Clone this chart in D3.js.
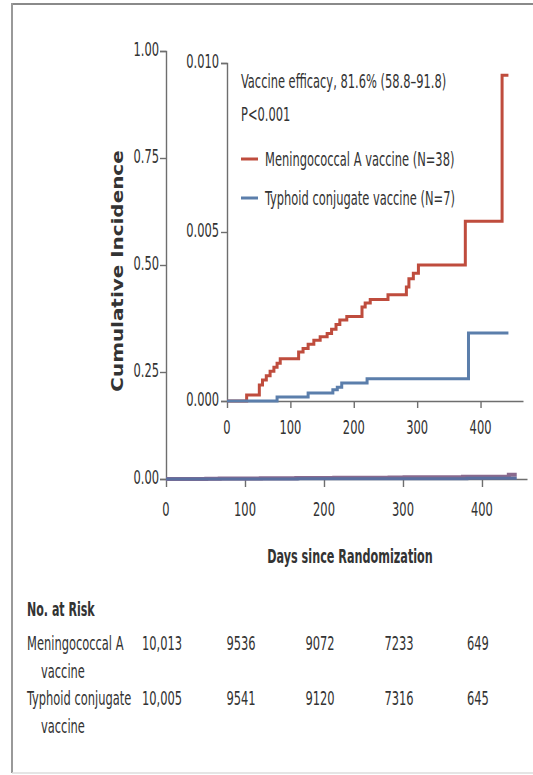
<!DOCTYPE html>
<html><head><meta charset="utf-8">
<script src="https://cdnjs.cloudflare.com/ajax/libs/d3/7.8.5/d3.min.js"></script>
<style>html,body{margin:0;padding:0;background:#fff;}svg{display:block;}</style>
</head><body>
<script>
// ---------- data ----------
const redDays = [0, 31, 51, 56, 62, 68, 74, 79, 84, 113, 120, 128, 137, 147, 158, 165, 172, 178, 189, 213, 218, 226, 254, 283, 287, 294, 302, 376, 434, 444];
const redInc  = [0, .00018, .00047, .00062, .00075, .00088, .00100, .00112, .00125, .00145, .00155, .00168, .00180, .00190, .00200, .00212, .00226, .00240, .00250, .00278, .00290, .00300, .00314, .00337, .00362, .00378, .00402, .00532, .00964, .00964];
const blueDays = [0, 79, 128, 167, 174, 181, 221, 381, 444];
const blueInc  = [0, .00012, .00024, .00033, .00041, .00053, .00066, .00201, .00201];
const outerYTicks = [0, 0.25, 0.5, 0.75, 1.0];
const innerYTicks = [0, 0.005, 0.010];
const xTicks = [0, 100, 200, 300, 400];
const seriesNames = ["Meningococcal A vaccine (N=38)", "Typhoid conjugate vaccine (N=7)"];
const riskLabels = [["Meningococcal A", "vaccine"], ["Typhoid conjugate", "vaccine"]];
const riskMen = ["10,013", "9536", "9072", "7233", "649"];
const riskTyp = ["10,005", "9541", "9120", "7316", "645"];
const annot = ["Vaccine efficacy, 81.6% (58.8\u201391.8)", "P<0.001"];

// ---------- setup ----------
const W = 533, H = 775, SY = 1.28, SX = 0.85;
const RED = "#bf4c3d", BLUE = "#5b7eab", AX = "#6e6e6e", TXT = "#333";
const NARROW = "'Liberation Sans Narrow','DejaVu Sans Condensed','Arial Narrow',sans-serif";
const svg = d3.select("body").append("svg").attr("width", W).attr("height", H);

function txt(x, y, s, o = {}) {
  return svg.append("text")
    .attr("transform", `translate(${x},${y}) scale(${o.sx || SX},${o.sy || SY})`)
    .attr("text-anchor", o.anchor || "start")
    .attr("font-family", o.family || NARROW)
    .attr("font-size", o.size || 15)
    .attr("font-weight", o.weight || "normal")
    .attr("fill", o.fill || TXT)
    .text(s);
}

// frame
svg.append("line").attr("x1", 12).attr("x2", W).attr("y1", 4).attr("y2", 4).attr("stroke", "#8a8a8a").attr("stroke-width", 2);
svg.append("line").attr("x1", 12).attr("x2", 12).attr("y1", 3).attr("y2", 773).attr("stroke", "#999").attr("stroke-width", 2);
svg.append("line").attr("x1", 12).attr("x2", W).attr("y1", 773).attr("y2", 773).attr("stroke", "#ddd").attr("stroke-width", 1.5);

// ---------- outer chart ----------
const xO = d3.scaleLinear().domain([0, 457]).range([166, 527]);
const yO = d3.scaleLinear().domain([0, 1]).range([479, 51]);

const gxO = svg.append("g").attr("transform", `translate(0,${yO(0)})`)
  .call(d3.axisBottom(xO).tickValues(xTicks).tickSize(8).tickSizeOuter(0).tickFormat(""));
const gyO = svg.append("g").attr("transform", `translate(${xO(0)},0)`)
  .call(d3.axisLeft(yO).tickValues(outerYTicks).tickSize(6).tickSizeOuter(6).tickFormat(""));
[gxO, gyO].forEach(g => { g.selectAll("path,line").attr("stroke", AX).attr("stroke-width", 1.4); });

xTicks.forEach(t => txt(xO(t), 516, String(t), { anchor: "middle" }));
outerYTicks.forEach(t => txt(xO(0) - 7, yO(t) + 5, d3.format(".2f")(t), { anchor: "end" }));

const lineO = (days, inc) => d3.line().curve(d3.curveStepAfter)
  .x((d, i) => xO(days[i])).y((d, i) => yO(inc[i]))(days);
svg.append("path").attr("d", lineO(redDays, redInc)).attr("fill", "none").attr("stroke", "#8a6a8e").attr("stroke-width", 4);
svg.append("path").attr("d", lineO(blueDays, blueInc)).attr("fill", "none").attr("stroke", "#5a6fa0").attr("stroke-width", 3);

// axis titles
txt(350, 563, "Days since Randomization", { anchor: "middle", weight: "bold", size: 16, sx: 0.78, sy: 1.2 });
svg.append("text")
  .attr("transform", `translate(123,${(yO(0) + yO(1)) / 2 + 6}) rotate(-90) scale(1.33,1)`)
  .attr("text-anchor", "middle").attr("font-family", "'DejaVu Sans',Verdana,sans-serif")
  .attr("font-weight", "bold").attr("font-size", 15).attr("fill", TXT)
  .text("Cumulative Incidence");

// ---------- inset ----------
const xI = d3.scaleLinear().domain([0, 467]).range([227, 523]);
const yI = d3.scaleLinear().domain([0, 0.010]).range([401, 63]);

const gxI = svg.append("g").attr("transform", `translate(0,${yI(0)})`)
  .call(d3.axisBottom(xI).tickValues(xTicks).tickSize(7).tickSizeOuter(0).tickFormat(""));
const gyI = svg.append("g").attr("transform", `translate(${xI(0)},0)`)
  .call(d3.axisLeft(yI).tickValues(innerYTicks).tickSize(6).tickSizeOuter(6).tickFormat(""));
[gxI, gyI].forEach(g => { g.selectAll("path,line").attr("stroke", AX).attr("stroke-width", 1.4); });

xTicks.forEach(t => txt(xI(t), 434, String(t), { anchor: "middle" }));
innerYTicks.forEach(t => txt(xI(0) - 8, yI(t) + 5, d3.format(".3f")(t), { anchor: "end" }));

const lineI = (days, inc) => d3.line().curve(d3.curveStepAfter)
  .x((d, i) => xI(days[i])).y((d, i) => yI(inc[i]))(days);
svg.append("path").attr("d", lineI(redDays, redInc)).attr("fill", "none").attr("stroke", RED).attr("stroke-width", 3);
svg.append("path").attr("d", lineI(blueDays, blueInc)).attr("fill", "none").attr("stroke", BLUE).attr("stroke-width", 3);

// annotation + legend
txt(241, 88, annot[0]);
txt(241, 121, annot[1]);
const legColors = [RED, BLUE], legY = [166, 205];
seriesNames.forEach((s, i) => {
  svg.append("line").attr("x1", 241).attr("x2", 258).attr("y1", legY[i] - 7).attr("y2", legY[i] - 7)
    .attr("stroke", legColors[i]).attr("stroke-width", 3);
  txt(265, legY[i], s);
});

// ---------- risk table ----------
txt(27, 616, "No. at Risk", { weight: "bold", sx: 0.82 });
const rowY = [650, 705];
riskLabels.forEach((lab, i) => {
  txt(27, rowY[i], lab[0]);
  txt(41, rowY[i] + 28, lab[1]);
});
[riskMen, riskTyp].forEach((row, i) => {
  row.forEach((v, j) => txt(xO(xTicks[j]) - 4, rowY[i], v, { anchor: "middle" }));
});
</script>
</body></html>
